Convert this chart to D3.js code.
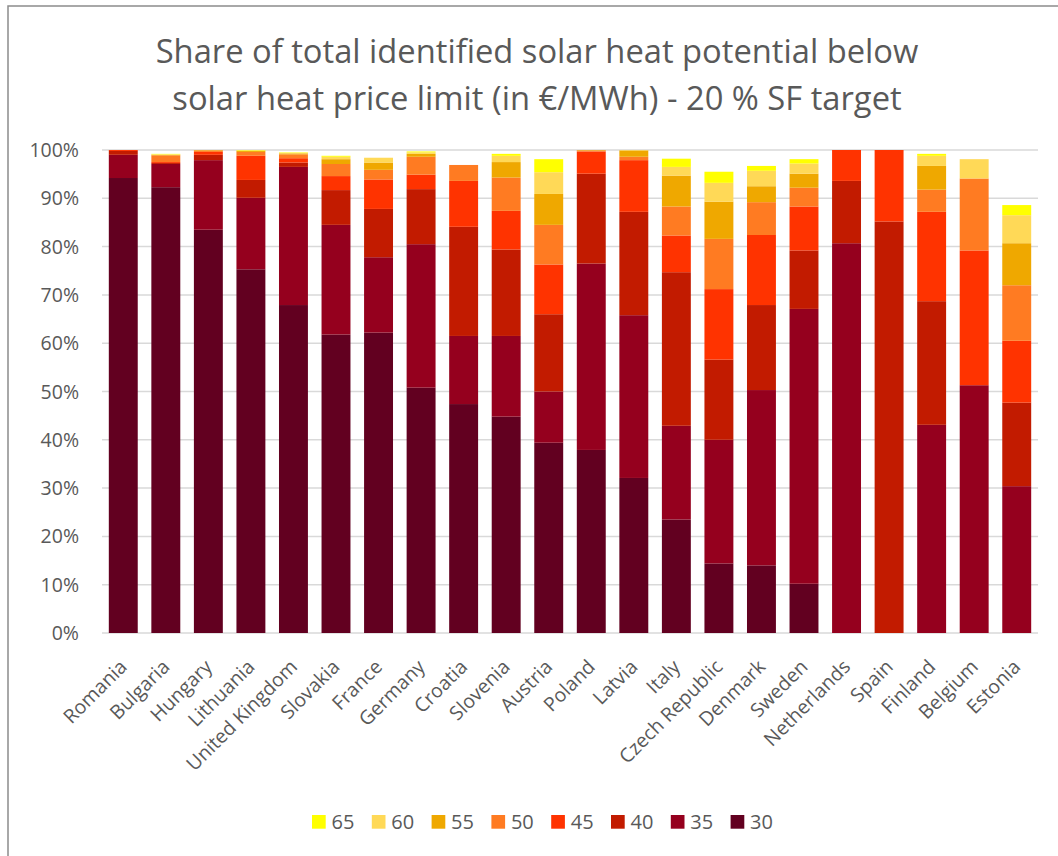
<!DOCTYPE html>
<html>
<head>
<meta charset="utf-8">
<script src="https://cdn.jsdelivr.net/npm/d3@7"></script>
<style>
  html, body { margin: 0; padding: 0; background: #fff; }
  svg text { font-family: "Open Sans", "Noto Sans", sans-serif; fill: #595959; }
</style>
</head>
<body>
<svg id="chart" width="1058" height="856"></svg>
<script>
// ---- Data (share of potential, %, increments per price limit) ----
const countries = ["Romania","Bulgaria","Hungary","Lithuania","United Kingdom","Slovakia","France","Germany","Croatia","Slovenia","Austria","Poland","Latvia","Italy","Czech Republic","Denmark","Sweden","Netherlands","Spain","Finland","Belgium","Estonia"];
const seriesKeys = ["30","35","40","45","50","55","60","65"];
const s30 = [94.2,92.3,83.5,75.3,67.9,61.8,62.2,50.8,47.4,44.8,39.4,37.9,32.1,23.5,14.4,14.0,10.2,0,0,0,0,0];
const s35 = [4.8,4.8,14.4,14.8,28.6,22.7,15.6,29.7,14.1,16.7,10.6,38.6,33.7,19.4,25.6,36.3,56.9,80.7,0,43.1,51.3,30.4];
const s40 = [0.8,0.2,1.1,3.7,0.9,7.2,10.0,11.4,22.6,17.9,16.0,18.6,21.4,31.8,16.6,17.6,12.1,12.9,85.2,25.6,0,17.3];
const s45 = [0.2,0.2,0.6,5.0,0.9,2.9,6.1,3.0,9.5,8.0,10.3,4.6,10.7,7.6,14.6,14.5,9.1,6.4,14.8,18.5,27.9,12.8];
const s50 = [0,1.4,0.3,0.8,0.8,2.5,2.0,3.7,3.3,6.9,8.2,0.2,0.7,6.0,10.4,6.8,3.9,0,0,4.6,14.9,11.5];
const s55 = [0,0.1,0.1,0.2,0.2,1.0,1.5,0.6,0,3.2,6.4,0.1,1.3,6.4,7.7,3.3,2.9,0,0,4.9,0,8.7];
const s60 = [0,0.1,0,0.1,0.1,0.5,1.0,0.3,0,1.3,4.5,0,0.1,1.8,3.9,3.2,2.1,0,0,2.1,4.0,5.8];
const s65 = [0,0.1,0,0.1,0.1,0.2,0,0.2,0,0.4,2.7,0,0,1.7,2.3,1.0,0.9,0,0,0.4,0,2.1];
const yTicks = [0,10,20,30,40,50,60,70,80,90,100];
const legendOrder = ["65","60","55","50","45","40","35","30"];
const titleLines = ["Share of total identified solar heat potential below","solar heat price limit (in €/MWh) - 20 % SF target"];

const colors = {"30":"#620020","35":"#95001E","40":"#C21B00","45":"#FF3300","50":"#FF7B22","55":"#EFA800","60":"#FFD957","65":"#FFFF00"};
const seriesValues = {"30":s30,"35":s35,"40":s40,"45":s45,"50":s50,"55":s55,"60":s60,"65":s65};

const table = countries.map((c,i) => {
  const row = {country:c};
  seriesKeys.forEach(k => row[k] = seriesValues[k][i]);
  return row;
});

const svg = d3.select("#chart");

// outer border (left/top visible)
svg.append("rect").attr("x",8).attr("y",6).attr("width",1200).attr("height",1000)
  .attr("fill","none").attr("stroke","#8c8c8c").attr("stroke-width",1.5);

const x0 = 102, x1 = 1038, yTop = 150, yBot = 633;
const x = d3.scaleBand().domain(countries).range([x0,x1]).paddingInner(0.32).paddingOuter(0.16);
const y = d3.scaleLinear().domain([0,100]).range([yBot,yTop]);

// gridlines
svg.append("g").selectAll("line").data(yTicks).join("line")
  .attr("x1",x0).attr("x2",x1).attr("y1",d=>y(d)).attr("y2",d=>y(d))
  .attr("stroke","#D9D9D9").attr("stroke-width",1.5);

// y labels
svg.append("g").selectAll("text").data(yTicks).join("text")
  .attr("x",79).attr("y",d=>y(d)).attr("dy","0.36em").attr("text-anchor","end")
  .style("font-size","19.5px").text(d=>d+"%");

// stacked bars
const stack = d3.stack().keys(seriesKeys)(table);
svg.append("g").selectAll("g").data(stack).join("g")
  .attr("fill",d=>colors[d.key])
  .selectAll("rect").data(d=>d).join("rect")
  .attr("x",d=>x(d.data.country)).attr("width",x.bandwidth())
  .attr("y",d=>y(d[1])).attr("height",d=>Math.max(0,y(d[0])-y(d[1])));

// x labels
svg.append("g").selectAll("text").data(countries).join("text")
  .attr("transform",d=>`translate(${x(d)+x.bandwidth()/2+5},${668}) rotate(-45)`)
  .attr("text-anchor","end")
  .style("font-size","19.5px").text(d=>d);

// title
const title = svg.append("g");
const tl = titleLines.map((t,i) =>
  title.append("text").attr("x",537).attr("y",63+i*46.5).attr("text-anchor","middle")
    .style("font-size","29px").text(t));
const w0 = tl[0].node().getComputedTextLength();
const fs = 29 * 763 / w0;
tl.forEach(t => t.style("font-size", fs.toFixed(2)+"px"));

// legend
const lg = svg.append("g").selectAll("g").data(legendOrder).join("g")
  .attr("transform",(d,i)=>`translate(${312+i*59.8},815)`);
lg.append("rect").attr("width",13.7).attr("height",13.7).attr("fill",d=>colors[d]);
lg.append("text").attr("x",19.5).attr("y",14).style("font-size","20px").text(d=>d);
</script>
</body>
</html>
